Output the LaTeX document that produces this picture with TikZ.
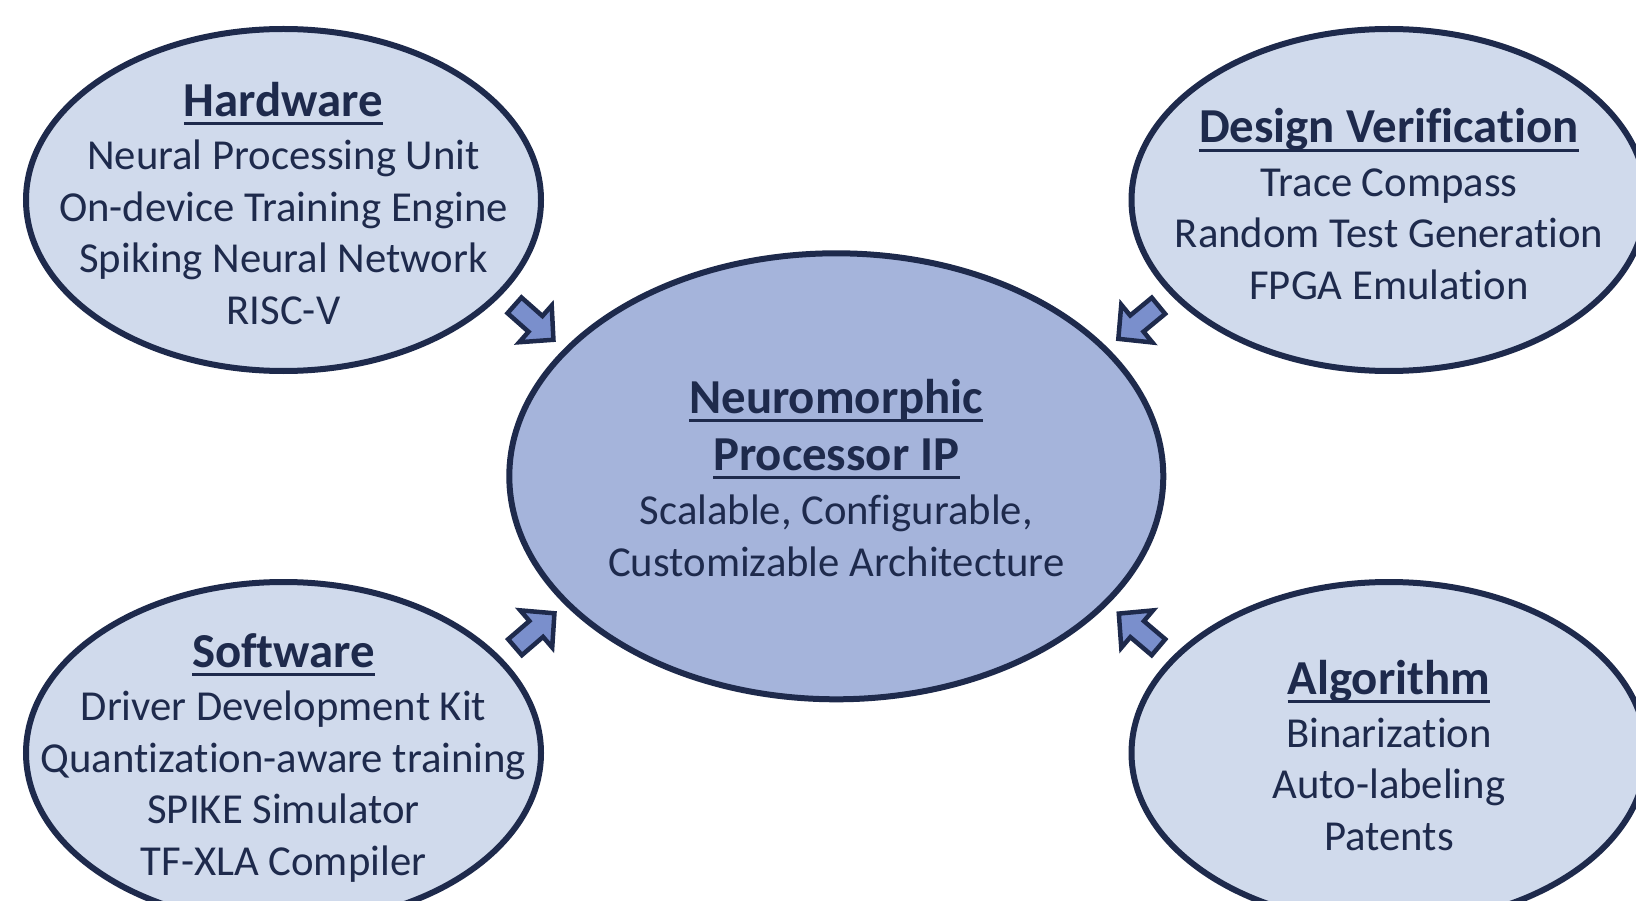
\documentclass[tikz,border=0pt]{standalone}
\usepackage{fontspec}
\setmainfont{Carlito}[Ligatures=NoCommon]
\usetikzlibrary{shapes.geometric,calc}

\definecolor{navy}{HTML}{1E2A4C}
\definecolor{bubblefill}{HTML}{D0DAEC}
\definecolor{corefill}{HTML}{A5B4DB}
\definecolor{arrowfill}{HTML}{7A8FCC}

% underlined heading word(s)
\newcommand\uln[1]{\setbox0=\hbox{#1}\rlap{\vrule width\wd0 height -5.7pt depth 8.7pt}\box0}
% centred stack of lines; the box baseline is the first line's baseline
\newcommand\stack[1]{\vtop{\baselineskip=51.6pt\lineskiplimit=-1000pt\lineskip=0pt
  \halign{\hfil##\hfil\cr#1\crcr}}}
\newcommand\ttl[1]{{\fontsize{48.8}{57}\selectfont\bfseries\uln{#1}}}

\tikzset{
  bubble/.style={ellipse, draw=navy, line width=6pt, fill=bubblefill, inner sep=0pt,
    minimum width=515pt, minimum height=342pt},
  core/.style={ellipse, draw=navy, line width=6pt, fill=corefill, inner sep=0pt,
    minimum width=654pt, minimum height=446pt},
  txt/.style={anchor=base, inner sep=0pt, text=navy,
    font=\fontsize{42.7}{51.6}\selectfont},
  arrowshape/.style={draw=navy, line width=4.5pt, fill=arrowfill, line join=miter},
  pics/blockarrow/.style={code={
    \path[arrowshape] (2,-10.5) -- (30,-10.5) -- (30,-24.5) -- (54,0)
      -- (30,24.5) -- (30,10.5) -- (2,10.5) -- cycle;}}
}

\begin{document}
\begin{tikzpicture}[x=1pt, y=-1pt]
  \useasboundingbox (0,0) rectangle (1636,901);
  \clip (0,0) rectangle (1636,901);
  \fill[white] (0,0) rectangle (1636,901);

  % the five ellipses
  \node[bubble] (hw) at (283.5,200) {};
  \node[bubble] (dv) at (1389,200) {};
  \node[bubble] (sw) at (283.5,753) {};
  \node[bubble] (al) at (1389,753) {};
  \node[core]   (np) at (836.3,476.3) {};

  % block arrows pointing at the core
  \coordinate (a1) at (513,304);
  \coordinate (a2) at (1160,304.5);
  \coordinate (a3) at (513.5,648.5);
  \coordinate (a4) at (1160,648.5);
  \pic[rotate=-41.5] at (a1) {blockarrow};
  \pic[rotate=219.5] at (a2) {blockarrow};
  \pic[rotate=40.7]  at (a3) {blockarrow};
  \pic[rotate=139.7] at (a4) {blockarrow};

  % texts
  \node[txt] (hwt) at ($(hw.center)+(0,-83.5)$) {\stack{\ttl{Hardware}\cr\noalign{\kern1.5pt}
    Neural Processing Unit\cr On-device Training Engine\cr Spiking Neural Network\cr RISC-V}};
  \node[txt] (dvt) at ($(dv.center)+(0,-57)$) {\stack{\ttl{Design Verification}\cr\noalign{\kern1.5pt}
    Trace Compass\cr Random Test Generation\cr FPGA Emulation}};
  \node[txt] (swt) at ($(sw.center)+(0,-85.5)$) {\stack{\ttl{Software}\cr\noalign{\kern1.5pt}
    Driver Development Kit\cr Quantization-aware training\cr SPIKE Simulator\cr TF-XLA Compiler}};
  \node[txt] (alt) at ($(al.center)+(0,-59)$) {\stack{\ttl{Algorithm}\cr\noalign{\kern1.5pt}
    Binarization\cr Auto-labeling\cr Patents}};
  \node[txt] (npt) at ($(np.center)+(0,-62.8)$) {\stack{\ttl{Neuromorphic}\cr\noalign{\kern5.4pt}
    \ttl{Processor IP}\cr\noalign{\kern2.4pt}
    Scalable, Configurable,\cr Customizable Architecture}};
\end{tikzpicture}
\end{document}
